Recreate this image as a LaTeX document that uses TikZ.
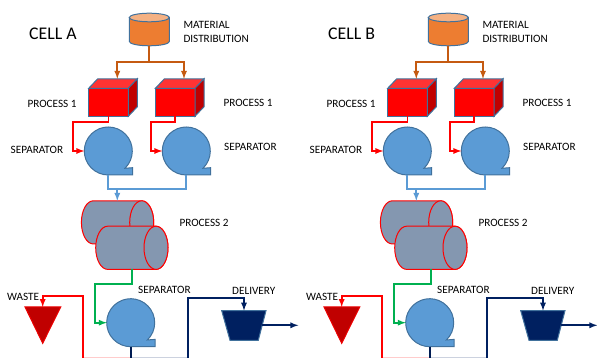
\documentclass[tikz,border=0pt]{standalone}
\usepackage{fontspec}
\setmainfont{Carlito}
\definecolor{drumfill}{HTML}{ED7D31}
\definecolor{drumtop}{HTML}{F4B183}
\definecolor{drumline}{HTML}{C55A11}
\definecolor{edgeblue}{HTML}{41719C}
\definecolor{sepfill}{HTML}{5B9BD5}
\definecolor{procfill}{HTML}{8497B0}
\definecolor{darkred}{HTML}{C00000}
\definecolor{navy}{HTML}{002060}
\definecolor{linkgreen}{HTML}{00B050}
\tikzset{
	label/.style={anchor=west, inner sep=0pt, font=\fontsize{11.2}{13}\selectfont},
	shell/.style={draw=edgeblue, line width=1pt},
	link/.style={line width=1.7pt, ->, >={latex[scale=0.65]}},
	plain/.style={line width=1.7pt},
	pale/.style={line width=1pt},
	cube/.style={shell, fill=red, inner sep=0pt, outer sep=0pt, minimum width=39.6pt, minimum height=28pt},
	sepcore/.style={circle, inner sep=0pt, outer sep=0pt, minimum size=48pt},
	drumshell/.style={draw=red, line width=1pt, fill=procfill}
}
\newcommand{\makecube}[2]{
	\node [cube] (#1) at (#2) {};
	\draw [shell, fill=red!80!white] (#1.north west) -- ++(9,9.5) -- ++(39.6,0) -- (#1.north east) -- cycle;
	\draw [shell, fill=darkred] (#1.north east) -- ++(9,9.5) -- ++(0,-28) -- (#1.south east) -- cycle;
}
\newcommand{\makesep}[2]{
	\draw [shell, fill=sepfill] (#2) ++(-46:24) arc [start angle=-46, end angle=270, radius=24] -- ++(24.4,0) -- ++(0,7.3) -- cycle;
	\node [sepcore] (#1) at (#2) {};
}
\newcommand{\makeroll}[2]{
	\draw [drumshell] (#1-36.3,#2+21.6) -- (#1+12,#2+21.6) arc [start angle=90, end angle=-90, x radius=12, y radius=21.6] -- (#1-36.3,#2-21.6) arc [start angle=270, end angle=90, x radius=12, y radius=21.6] -- cycle;
	\draw [drumshell] (#1+12,#2) ellipse [x radius=12, y radius=21.6];
}
\begin{document}
\begin{tikzpicture}[x=1pt, y=1pt]
	\useasboundingbox (0,0) rectangle (597,358);
	\foreach \cell/\offs/\title in {a/0/CELL A, b/299/CELL B} {
		\begin{scope}[xshift=\offs]
			% material drum
			\draw [shell, fill=drumfill] (129.3,340.5) -- (129.3,316.5) arc [start angle=180, end angle=360, x radius=20, y radius=4.3] -- (169.3,340.5) -- cycle;
			\draw [shell, fill=drumtop] (149.3,340.5) ellipse [x radius=20, y radius=4.3];
			\coordinate (\cell-drum) at (149.3,312.2);
			\coordinate (\cell-split) at (149.3,296);
			% first process and separators
			\makecube{\cell-cubea}{108.5,255.7}
			\makecube{\cell-cubeb}{175.2,255.7}
			\makesep{\cell-sepa}{108.3,207}
			\makesep{\cell-sepb}{186.3,207}
			% second process
			\makeroll{129.7}{135.6}
			\makeroll{144}{110.2}
			\coordinate (\cell-rollin) at (117.3,157.2);
			\coordinate (\cell-rollout) at (132.3,88.6);
			\coordinate (\cell-bus) at (117.3,169.3);
			% last separator, waste, delivery
			\makesep{\cell-sepc}{130.7,35.3}
			\draw [shell, draw=red!70!darkred, fill=darkred] (25,51) -- (60.7,51) -- (42.7,14.7) -- cycle;
			\coordinate (\cell-waste) at (42.7,51);
			\draw [shell, fill=navy] (221.7,47.3) -- (266,47.3) -- (258.3,17.7) -- (230,17.7) -- cycle;
			\coordinate (\cell-deliv) at (244,47.5);
			\coordinate (\cell-delout) at (261.7,32.7);
			\coordinate (\cell-end) at (298.3,32.7);
			\coordinate (\cell-foot) at (130.7,0.4);
			\coordinate (\cell-footl) at (83.3,0.4);
			\coordinate (\cell-footr) at (188.3,0.4);
			% connectors
			\draw [plain, drumline] (\cell-drum) -- (\cell-split);
			\draw [link, drumline] (\cell-split) -| ([xshift=8.8pt, yshift=9.5pt]\cell-cubea.north);
			\draw [link, drumline] (\cell-split) -| ([xshift=8.8pt, yshift=9.5pt]\cell-cubeb.north);
			\draw [link, red] (\cell-cubea.south) |- (72.7,236.3) |- (\cell-sepa.west);
			\draw [link, red] (\cell-cubeb.south) |- (150.7,236.3) |- (\cell-sepb.west);
			\draw [plain, sepfill] (\cell-sepa.south) |- (\cell-bus) -| (\cell-sepb.south);
			\draw [link, sepfill] (\cell-bus) -- (\cell-rollin);
			\draw [link, linkgreen] (\cell-rollout) |- (95,74) |- (\cell-sepc.west);
			\draw [pale, red!20] (\cell-footl) -- (\cell-foot);
			\draw [pale, navy!20] (\cell-foot) -- (\cell-footr);
			\draw [link, red] (\cell-footl) |- (42.7,62.3) -- (\cell-waste);
			\draw [link, navy] (\cell-footr) |- (244,59.7) -- (\cell-deliv);
			\draw [plain, navy!85!black] (\cell-sepc.south) -- (\cell-foot);
			\draw [link, navy] (\cell-delout) -- (\cell-end);
			% labels
			\node [label, font=\fontsize{17.8}{20}\selectfont] (\cell-title) at (29,324) {\title};
			\node [label] (\cell-mata) at (183.3,332.7) {MATERIAL};
			\node [label] (\cell-matb) at (183.3,318.7) {DISTRIBUTION};
			\node [label] (\cell-proca) at (27.3,253.7) {PROCESS 1};
			\node [label] (\cell-procb) at (223.3,255.5) {PROCESS 1};
			\node [label] (\cell-lsepa) at (10.5,208.5) {SEPARATOR};
			\node [label] (\cell-lsepb) at (224,211.5) {SEPARATOR};
			\node [label] (\cell-procc) at (179.3,135) {PROCESS 2};
			\node [label] (\cell-lsepc) at (138,67.7) {SEPARATOR};
			\node [label] (\cell-lwaste) at (7,61) {WASTE};
			\node [label] (\cell-ldeliv) at (232,66.7) {DELIVERY};
		\end{scope}
	}
\end{tikzpicture}
\end{document}
